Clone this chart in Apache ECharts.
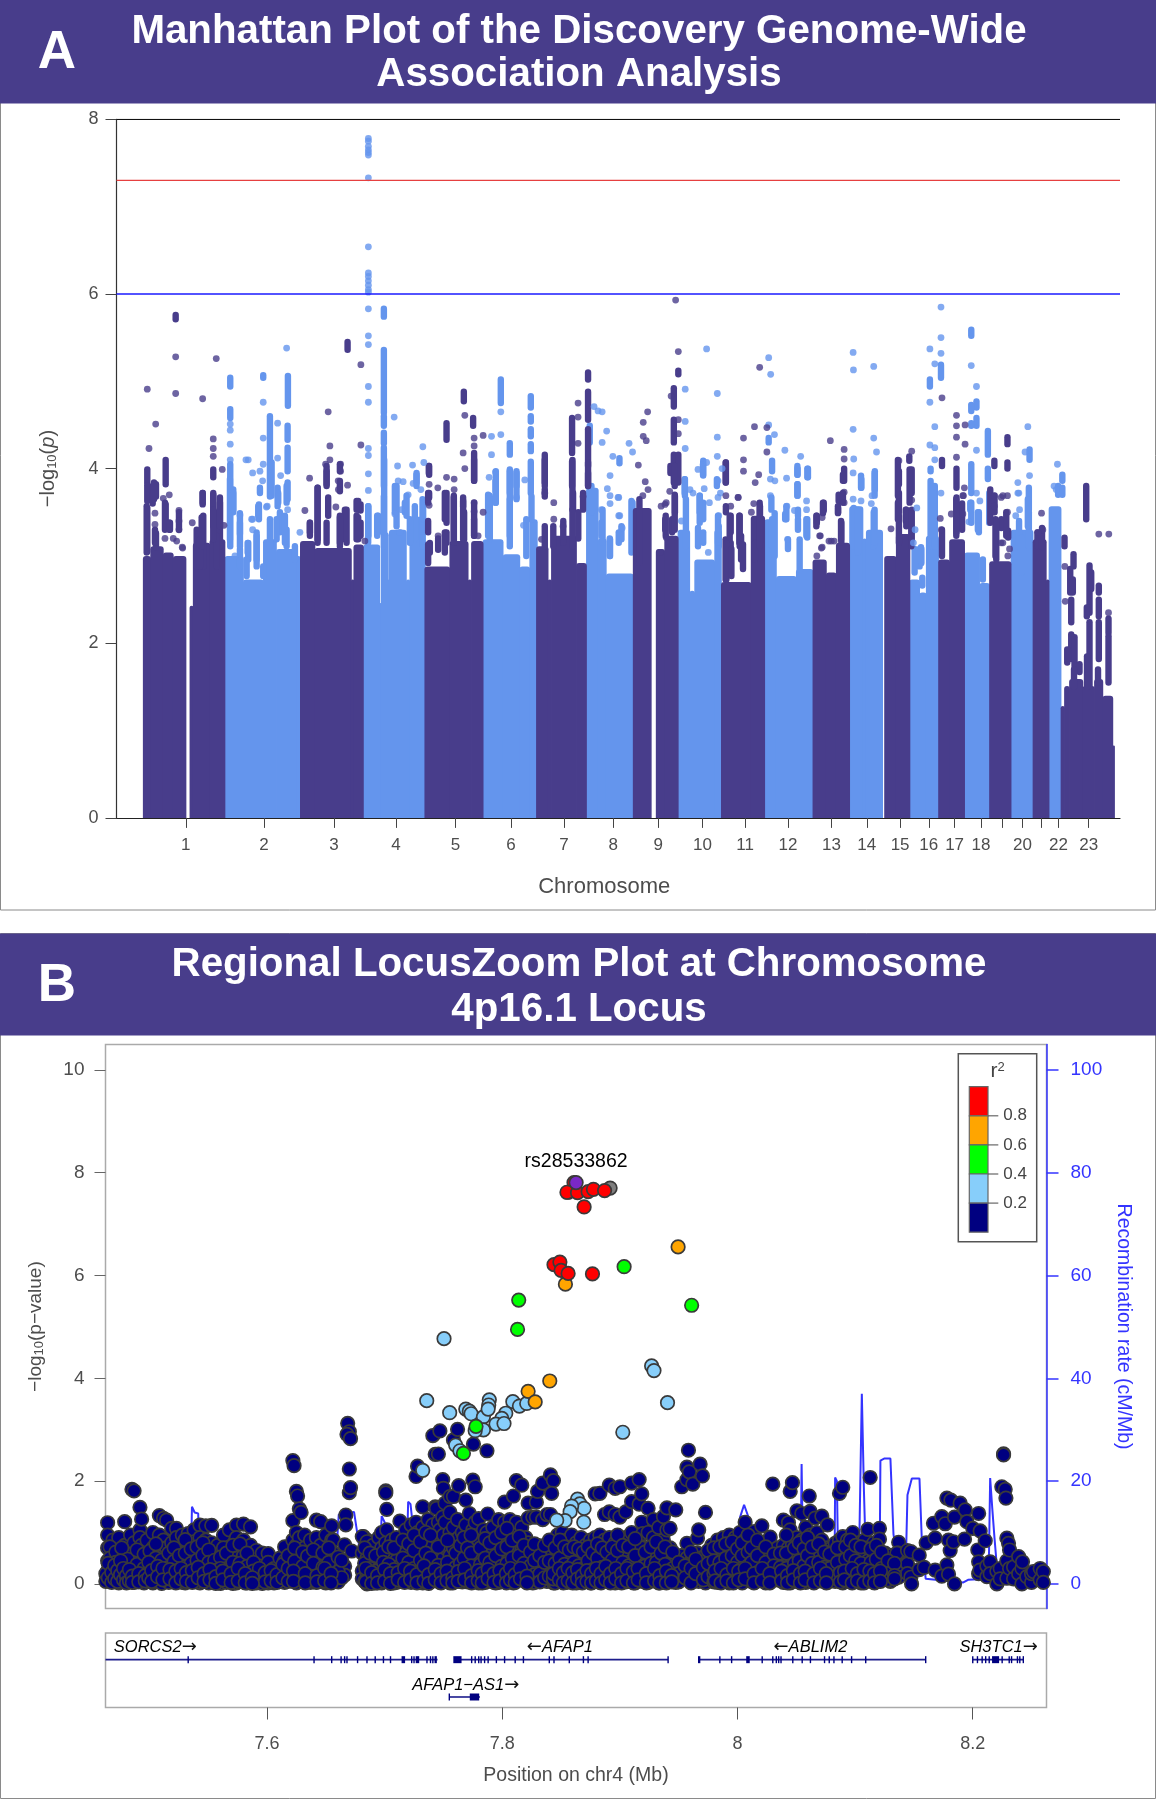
<!DOCTYPE html>
<html><head><meta charset="utf-8">
<style>html,body{margin:0;padding:0;background:#fff}#c{width:1156px;height:1800px}</style>
<script src="https://cdn.jsdelivr.net/npm/echarts@6/dist/echarts.min.js"></script>
</head><body><div id="c"></div>
<script>
// ---------- Panel A: positions are genome bins (about 3.16 Mb each) ----------
const chromTicks=[69.3,147.5,217.6,279.5,339.2,394.6,447.7,497,542,586.3,629,671.8,715.4,750.7,784,812.7,838.5,865,886,906.4,925.5,942.5,972.7];
const chromLabels=['1','2','3','4','5','6','7','8','9','10','11','12','13','14','15','16','17','18','','20','','22','23'];
const thresholds={top:8,genomeWide:7.3,suggestive:6};
// solid body of the plot: [binStart, binEnd, solid height]
const lightBody=[[108.5,127,3.0],[127,147,2.73],[147,160,3.19],[160,180,3.08],[180,184,3.0],[247,263.5,3.13],[263.5,265,2.46],[265,272,3.27],[272,273,2.73],[273,290,3.3],[290,293.5,2.73],[293.5,309,3.45],[366.8,386.8,3.19],[386.8,403.5,3.02],[403.5,413.5,2.88],[413.5,421,3.42],[470.2,482,3.78],[482,490,3.2],[490,517,2.8],[561.8,573.5,3.3],[573.5,578.5,2.6],[578.5,598.5,2.96],[598.5,605.2,3.3],[648.5,660.2,3.42],[660.2,680.2,2.77],[680.2,696.8,2.85],[733.5,746.8,3.57],[746.8,750.2,3.2],[750.2,766.5,3.3],[793.5,803.5,2.73],[803.5,810.2,2.58],[810.2,822.5,3.23],[848.5,863.5,3.04],[863.5,873.5,2.69],[895,917,3.3],[933,945,3.57]];
const darkBody=[[26.8,34.2,3.0],[34.2,46.8,3.11],[46.8,56.8,3.04],[56.8,69.5,3.0],[73.5,76.8,2.43],[76.8,93.5,3.15],[93.5,108.5,3.19],[184,198.5,3.17],[198.5,235,3.09],[235,237.5,2.73],[237.5,247,3.13],[308.5,333.5,2.88],[333.5,351.8,3.17],[351.8,355.2,2.73],[355.2,366.8,3.17],[420.2,431.8,3.11],[431.8,435.2,2.73],[435.2,460.2,3.23],[460.2,470.2,2.92],[517,535,3.55],[540,548.5,3.08],[548.5,562,3.23],[605.2,635,2.7],[635,648.5,3.46],[696.8,710.2,2.96],[710.2,720.2,2.81],[720.2,733.5,3.15],[768.5,780.2,3.0],[780.2,793.8,3.25],[822.5,833.5,2.96],[833.5,848.5,3.19],[873.5,895,2.94],[917,930.2,3.19],[930.2,933,2.73],[945,948.5,1.28],[948.5,953.5,1.51],[953.5,966.8,1.59],[966.8,978.5,1.51],[978.5,986.8,1.59],[986.8,996.8,1.4],[996.8,998.5,.83]];
// vertical runs of overlapping points: [bin, low, high]
const darkRuns=[[30.8,3.84,3.99],[30.8,3.63,3.81],[30.8,3.05,3.55],[36.2,3.6,3.8],[39.5,3.68,3.82],[49.2,3.82,4.1],[49.2,3.34,3.59],[53.5,3.3,3.38],[39.5,3.1,3.26],[59.2,5.71,5.76],
[80.2,2.88,3.3],[86.8,2.88,3.46],[86.2,3.59,3.72],[96.8,3.5,3.7],[98.5,3.27,3.5],[103.5,3.11,3.61],[96.8,3.9,3.99],[83.5,2.88,3.19],[100.2,2.88,3.23],
[231.2,5.36,5.45],[210.2,3.82,3.97],[201.2,3.15,3.78],[211.8,3.46,3.67],[193.5,3.27,3.38],[210.2,3.15,3.38],[228.5,3.19,3.53],[223.5,3.15,3.44],[240.2,3.53,3.63],[244.2,3.52,3.59],[244.2,3.23,3.38],[240.2,3.19,3.46],
[312.8,3.93,4.03],[312.8,3.67,3.72],[330.2,4.33,4.52],[347.5,4.77,4.88],[356.8,4.49,4.58],[357.8,3.86,4.18],[330.2,3.38,3.72],[337.5,3.15,3.67],[346.8,3.57,3.67],[357.8,3.23,3.42],[347.8,3.19,3.5],[311.8,3.27,3.4],[313.5,3.04,3.15],[330.2,3.15,3.27],
[428.5,3.84,4.16],[428.5,3.68,3.76],[455.8,4.18,4.58],[455.8,3.8,4.08],[456.8,3.53,3.72],[471.8,5.02,5.1],[471.8,4.56,4.88],[471.8,4.03,4.45],[471.8,3.8,3.95],[462,3.2,3.5],[447,3.15,3.4],
[523.2,2.92,3.65],[557.6,4.71,4.92],[557.6,4.3,4.56],[557.6,3.84,4.16],[562.1,3.84,4.16],[554.2,3.95,4.03],[558.7,3.5,3.69],[549,3.3,3.42],[555.9,3.27,3.42],[562.1,5.08,5.12],
[609.7,3.84,4.07],[609.7,3.5,3.57],[643.8,3.15,3.57],[614.5,3.27,3.46],[623.2,3.15,3.46],[609.4,2.73,3.19],[614.5,2.88,3.15],[624.9,2.96,3.23],[638.7,2.96,3.15],
[728,3.86,4.0],[722.5,3.63,3.7],[707.6,3.52,3.61],[722,3.5,3.55],[700.7,3.38,3.46],[724.9,3.19,3.4],
[793.2,4.09,4.14],[782.8,3.82,3.97],[795.6,3.72,3.99],[782.8,3.5,3.72],[789.7,3.4,3.53],[795.6,3.19,3.53],[782.8,3.15,3.46],
[825.9,4.03,4.1],[840.4,3.78,4.0],[840.4,3.27,3.67],[825.9,3.0,3.3],[846,3.3,3.6],
[891.4,4.28,4.36],[878.3,4.03,4.09],[891.4,4.0,4.07],[879.4,3.0,3.42],[885.2,3.32,3.42],[892.1,3.21,3.29],
[921.4,3.11,3.27],[926,3.1,3.32],[948.5,3.11,3.21],[957.5,2.88,3.02],[954.2,2.58,2.85],[956.8,2.58,2.73],[955.2,2.24,2.5],[955.2,1.82,2.1],[951.2,1.78,1.93],[958.5,1.74,2.07],[963.5,1.67,1.76],[958,1.5,1.7],
[970.2,3.42,3.8],[973.5,2.35,2.89],[975.2,2.62,2.81],[970.8,2.31,2.41],[973.5,1.51,2.24],[971,1.5,1.85],[982.8,2.58,2.66],[982.8,2.31,2.5],[982.8,1.82,2.24],[992.5,2.12,2.28],[992.5,1.55,2.08],[982,1.55,1.7]];
const darkMidRuns=[[30.2,3.04,3.57],[37.5,3.65,3.84],[38.5,3.15,3.3],[48.5,3.3,3.61],[52.8,3.3,3.38],[62.5,3.3,3.5],[86.2,3.61,3.72],[85.2,3.11,3.44],[96.8,3.34,3.72],[103.5,3.34,3.67],[96.8,3.19,3.53],
[201.2,3.19,3.78],[210.2,3.8,4.03],[223.5,3.97,4.05],[223.5,3.74,3.86],[223.5,3.11,3.46],[230.2,3.15,3.53],[241.8,3.53,3.63],[241.8,3.19,3.44],[193.5,3.23,3.38],
[312.5,3.95,4.03],[311.8,3.61,3.72],[311.8,2.92,3.13],[321.8,3.07,3.2],[328.5,3.42,3.72],[328.5,3.04,3.27],[337.5,3.15,3.69],[346.8,3.19,3.63],[357.8,3.86,4.1],[357.8,3.23,3.61],
[428.5,3.8,4.1],[428.5,3.11,3.34],[437,3.11,3.34],[456.2,3.53,4.1],[466.8,3.53,3.72],[471.8,3.8,4.07],[456.2,3.11,3.53],
[558.5,3.8,4.03],[558.5,3.3,3.7],[549.5,3.23,3.46],
[609.5,3.84,4.07],[643.5,3.11,3.61],[613.5,3.19,3.46],[623.5,3.11,3.46],[610.2,2.73,3.15],[615.2,2.77,3.08],[626.8,2.85,3.13],
[706.8,3.49,3.61],[700.2,3.34,3.46],[721.8,3.49,3.57],[726.8,3.61,3.72],[726.8,3.86,3.93],[725.2,3.15,3.38],
[781.8,3.69,4.1],[781.8,3.42,3.61],[793.5,3.61,3.99],[790.2,3.34,3.53],[795.2,3.11,3.49],
[840.2,3.23,3.65],[874.2,3.38,3.76],[878.5,3.5,3.69],[880.2,2.96,3.4],[890.2,3.23,3.5]];
const lightRuns=[[113.8,4.94,5.04],[113.8,4.58,4.68],[113.8,3.11,4.05],[116.8,3.5,3.76],[123.5,3.25,3.38],[143.5,3.72,3.78],[142.5,3.42,3.59],[146.8,5.04,5.07],[153.5,3.68,4.6],[171.5,4.72,5.06],[171.2,4.33,4.49],[171.2,3.97,4.24],[171.2,3.65,3.84],[161.2,3.57,3.78],[131.8,2.96,3.15],[140.2,2.88,3.23],[153.5,3.11,3.42],[163.5,3.27,3.5],[170.2,3.11,3.3],[123.5,2.88,3.08],[178.5,2.96,3.11],
[252,3.23,3.57],[267.5,5.74,5.83],[267.5,4.64,5.36],[267.5,4.49,4.6],[267.5,4.29,4.41],[267.5,3.8,4.24],[267.5,3.11,3.68],[261.8,3.27,3.46],[300.2,3.8,3.93],[278.5,3.5,3.8],[288.5,3.5,3.61],[298.5,3.19,3.57],[306.2,3.11,3.65],[293.5,3.15,3.42],
[384.5,4.75,5.02],[393.5,4.16,4.29],[393.5,3.72,3.97],[400.2,3.8,3.95],[414.5,4.7,4.83],[414.5,4.54,4.6],[414.5,4.37,4.45],[414.5,4.2,4.28],[414.5,3.72,4.08],[415.2,3.42,3.68],[371.8,3.23,3.7],[379.2,3.74,3.86],[393.5,3.11,3.65],[410,3.0,3.42],[473.5,4.3,4.49],[475.2,3.5,3.8],
[503.2,4.06,4.12],[486.3,3.15,3.53],[502.5,3.15,3.27],[493.8,3.0,3.19],[516.3,3.19,3.61],
[587,3.92,4.09],[568.7,3.69,3.88],[583.5,3.5,3.69],[600.7,3.8,3.88],[587,3.42,3.61],[569.7,3.11,3.65],[581.8,3.11,3.32],[602.5,3.11,3.34],[587,3.15,3.27],
[652.5,4.3,4.35],[655.9,3.97,4.09],[681.4,3.93,4.0],[691.8,3.9,4.0],[681.4,3.69,3.82],[669,3.42,3.48],[681.8,3.3,3.42],[691.1,3.21,3.42],[655.9,3.11,3.42],
[744.9,3.78,3.92],[758.7,3.76,3.97],[737.6,3.11,3.55],[757.6,3.11,3.5],
[813.8,4.94,5.02],[814.5,3.97,4.0],[814.5,3.11,3.86],[818.7,3.11,3.8],[804.9,2.92,3.1],[824.9,5.04,5.19],
[855.2,5.52,5.59],[860.4,4.7,4.77],[855.2,4.66,4.73],[860.4,4.49,4.58],[855.2,4.49,4.52],[871.8,4.16,4.43],[855.2,3.72,4.05],[871.8,3.88,4.0],[854.2,3.53,3.61],[862.8,3.27,3.5],[873.2,3.38,3.72],
[913.5,4.1,4.22],[912.8,3.53,3.78],[912.8,3.11,3.5],[903,3.1,3.4],[946.3,3.86,3.93],[942.1,3.7,3.8],[946.3,3.7,3.78]];
const lightMidRuns=[[113.5,3.19,3.88],[116.8,3.53,3.72],[123.5,3.11,3.49],[131.2,3.04,3.15],[141.8,3.46,3.57],[140.2,2.96,3.27],[155.2,3.69,4.07],[161.8,3.61,3.72],[170.2,3.61,3.8],[160.2,3.19,3.42],[168.5,3.15,3.46],[130.2,2.77,2.96],[146.8,2.77,2.88],
[251.8,3.15,3.57],[260.8,3.23,3.46],[267.8,3.27,4.1],[280.2,3.34,3.8],[300.2,3.84,3.95],[290.2,3.46,3.69],[306.8,3.42,3.61],
[379.5,3.61,3.97],[373.5,3.19,3.69],[393.5,3.23,3.99],[400.2,3.65,3.97],
[485.2,3.23,3.38],[505.2,3.19,3.34],[493.5,3,3.2],[515.2,3.04,3.63],[568.5,3.72,3.88],[583.5,3.38,3.69],[586.8,3.93,4.05],[601.8,3.15,3.46],
[681.2,3.69,3.82],[681.2,3.93,4.03],[691.2,3.9,4],[655.2,3.53,3.67],[670.2,3.42,3.57],[681.8,3.46,3.53],[690.2,3.23,3.42],[671.8,3.08,3.19],[658.5,3,3.49],[683.5,2.85,3.19],
[745.2,3.78,3.88],[758.5,3.69,3.95],[741.8,3.04,3.53],[758.5,3.15,3.53],
[803.5,2.88,3.08],[798.5,2.81,3.08],[805.2,2.92,3.08],[806.2,2.66,2.75],[816.8,3.23,3.8],[855.2,3.38,3.61],[861.8,3.3,3.5],[866.8,2.73,2.96],[911.8,3.34,3.65],[905.2,2.81,3.21]];
// individual points: [bin, -log10 p]
const darkDots=[[30.8,4.91],[39.2,4.51],[32.5,4.23],[59.2,5.28],[59.2,4.86],[99.8,5.26],[86.2,4.8],[96.8,4.34],[96.8,4.23],[96.8,4.14],[105.8,3.99],[46.8,3.66],[52.8,3.7],[38.5,3.49],[38.5,3.36],[62.5,3.52],[62.5,3.4],[62.5,3.3],[48.5,3.2],[66.2,3.09],[60.2,3.17],[107.5,3.35],[75.8,3.38],[56.8,3.2],[65.8,3.1],
[211.8,4.65],[193.2,3.89],[213.5,4.26],[213.5,4.1],[209.2,4.05],[224.2,4.05],[224.2,3.97],[221.8,3.86],[222,3.76],[231.2,3.81],[244.5,5.19],[244.5,4.27],[188.5,3.52],[219.5,3.56],[248.5,3.17],
[312.8,3.82],[321.5,3.78],[312.8,3.58],[330.2,3.9],[337.8,3.88],[337.8,3.76],[348.5,4.61],[357.8,4.35],[357.8,4.26],[346.8,4.18],[348.5,4.0],[366.8,4.38],[357.8,3.61],[357.8,3.51],[321.8,3.23],[366.8,3.5],[361.8,3.23],
[437.5,3.61],[437.5,3.42],[425.2,3.19],[446.8,3.34],[461.8,4.75],[461.8,4.59],[461.8,4.29],[466.8,3.68],[428.5,3.72],
[531.4,4.65],[527,4.53],[527,4.37],[530,4.32],[522.1,4.04],[529,3.85],[531.8,3.76],[526.6,3.69],[559.4,5.93],[562.1,5.34],[554.9,4.83],[562.1,4.56],[562.1,4.4],[544.9,3.57],[550,3.61],[550,3.21],[543.8,3.04],[548.8,3.59],[553.5,3.74],
[609.7,3.69],[614.5,3.57],[622.1,3.67],[627.3,4.35],[627.3,4.1],[627.3,3.97],[638.3,4.48],[642.5,3.93],[639,3.84],[650.7,4.47],[650.7,4.19],[637.6,3.6],[635.2,3.5],[643.5,5.16],[621.8,3.67],
[714.2,4.32],[728,4.22],[728,4.11],[728,3.73],[728,3.61],[706,3.44],[704.2,3.23],[712.8,3.17],[718,3.17],[706,3.1],[700.7,3],[703.5,3.23],[705.2,3.09],[715.2,3.17],
[782.8,4.09],[795.6,4.2],[795.6,3.64],[774.9,3.31],[825.9,4.81],[840.4,4.61],[840.4,4.49],[840.4,4.36],[849,4.5],[849,4.28],[840.4,4.13],[848.3,3.78],[847.3,3.69],[835.2,3.48],[824.2,3.43],[825.2,3.3],[846.8,3.69],[846.8,3.48],
[878.3,3.69],[885.2,3.67],[891.4,3.69],[878.3,3.57],[891.4,3.5],[885,3.15],[886.8,3.69],[886.8,3.15],[893.5,3.08],[891.8,3],[925.5,3.49],[926.8,3.3],[921.8,3.27],[948.8,2.88],[949.2,2.48],[982.8,3.25],[992.8,3.25],[992.5,2.35]];
const lightDots=[[123.5,3.47],[131.8,4.1],[129.5,4.1],[136.2,3.95],[143.5,3.97],[146.2,3.86],[136.2,3.42],[136.2,3.3],[146.8,4.76],[146.8,4.35],[146.8,4.05],[161.2,4.52],[161.2,4.12],[170.2,5.38],[164.2,3.92],[171.2,3.53],[150,3.56],[183.5,3.27],[113.8,4.51],[113.8,4.44],[113.8,4.28],[113.8,4.1],[150.8,3.57],[135.2,3.42],[118.5,3],
[252,7.78],[252,7.75],[252,7.69],[252,7.65],[252,7.62],[252,7.59],[252,7.33],[252,6.54],[252,6.24],[252,6.2],[252,6.15],[252,6.1],[252,6.05],[252,6.02],[252,5.83],[252,5.52],[252,5.42],[252,4.94],[252,4.76],[252,4.23],[252,4.15],[252,3.94],[252,3.75],[277.8,4.59],[306.5,4.25],[307.5,4.07],[296.2,4.04],[281.2,4.03],[281.8,3.86],[286.8,3.85],[296.8,3.83],[304.5,3.76],[291.8,3.7],[285.2,3.53],[278.5,3.48],[283.5,3.27],
[384.5,4.65],[384.5,4.39],[375.2,4.37],[375.2,4.16],[379.2,3.96],[372.8,3.9],[379.2,3.61],[408.5,3.87],[400.2,3.67],[407.2,3.35],[477.8,4.71],[481.8,4.66],
[485.9,4.65],[490.4,4.43],[485.9,4.3],[496.6,4.14],[512.8,4.29],[516.3,4.19],[493.8,3.92],[491.1,3.77],[493.8,3.69],[502.5,3.67],[493.8,3.6],[502.5,3.46],[505.9,3.32],[501.8,3.67],[503.5,3.46],[485.2,3.53],
[569,4.91],[569,4.54],[569,4.23],[590.4,5.37],[601.1,4.86],[601.1,4.36],[601.1,4.14],[581.8,3.99],[590.4,4.07],[573.8,3.76],[588,3.77],[605.9,4],[604.2,3.72],[602.5,3.46],[593.2,3.61],[592.1,3.04],[565.2,3.4],[576.8,3.72],[601.8,3.86],[601.8,3.67],
[652.5,5.27],[654.5,5.08],[652.5,4.5],[658.3,4.39],[668.7,4.21],[684.5,4.14],[670.4,3.89],[654.2,3.88],[658.7,3.86],[690.4,3.63],[654.2,3.69],[670.7,3.57],[678.3,3.52],[690.4,3.53],[671.4,3.19],
[737,5.33],[737.3,5.13],[757.6,5.17],[737,4.45],[757.6,4.35],[760.4,4.19],[737.6,4.11],[737,3.95],[755.9,3.69],[737,3.65],[744.9,3.63],[755.2,3.6],
[813.8,5.37],[818.7,5.2],[813.8,4.76],[818.7,4.48],[813.8,4.27],[818.7,4.24],[818.7,4.1],[824.9,3.72],[800.7,3.55],[799,3.3],[797.3,3.15],[824.9,5.85],[824.9,5.5],[824.9,5.32],
[855.2,5.18],[860.4,4.94],[860.4,4.21],[863.8,3.63],[860.4,3.72],[852.8,3.39],[911.8,4.48],[909,4.19],[913.5,3.92],[901.8,3.84],[901.8,3.72],[903.5,3.53],[899.7,3.46],[941.4,4.05],[938,3.8],[902.8,3.72],[940.2,3.76]];

// ---------- Panel B ----------
const xTicksB=[7.6,7.8,8,8.2];
const pTicks=[0,2,4,6,8,10];
const recTicks=[0,20,40,60,80,100];
const recomb=[[7.4627,.5],[7.535,.5],[7.5362,15],[7.5385,13.9],[7.5415,13.7],[7.5425,5],[7.545,1],[7.584,1],[7.586,8],[7.589,8],[7.59,1],[7.655,.5],[7.6595,8],[7.661,13.5],[7.674,14],[7.678,8],[7.681,1],[7.695,1],[7.6975,13.2],[7.7,12],[7.7055,8],[7.71,2],[7.7185,2],[7.72,16],[7.722,15.5],[7.7265,6],[7.7295,2],[7.735,1],[7.8,.8],[7.9,.5],[8.0,.8],[8.0022,13],[8.0056,15.4],[8.0093,13],[8.012,1],[8.0535,1],[8.0545,23.3],[8.0555,8],[8.0575,1],[8.0825,1],[8.083,20.7],[8.0845,20],[8.0855,5],[8.103,1],[8.1043,18.3],[8.1052,18.3],[8.1057,37],[8.1068,37],[8.1075,18],[8.1085,10],[8.121,8],[8.1215,24],[8.125,24.4],[8.13,24.4],[8.1326,9.7],[8.135,6],[8.1432,5],[8.1445,17.3],[8.1482,20.5],[8.1547,20.5],[8.1567,8.6],[8.16,1],[8.185,.4],[8.192,.3],[8.196,.8],[8.2135,1],[8.2148,20.6],[8.2165,15],[8.2185,8.9],[8.22,8.9],[8.221,2],[8.25,.3],[8.2627,.3]];
// each row: position (Mb), then the -log10 p values read at that position
const navyColumns=[
[7.4645,1.19,.95,.7,.45,.25,.08],[7.469,.85,.55,.3,.1],[7.474,.9,.6,.4,.15,.02],[7.479,1.21,.75,.5,.2,.05],[7.484,.95,.65,.35,.12],[7.4852,1.84],[7.487,1.81,.8,.45,.2,.03],[7.492,1.49,1.05,.9,.6,.3,.1],[7.4934,1.26,.75,.4,.15],[7.498,.85,.55,.28,.06],[7.503,1.0,.7,.42,.18,.02],[7.5085,1.33,.95,.6,.35,.1],[7.512,1.275,.85,.55,.25,.04],[7.5147,1.24,.7,.45,.15],[7.519,1.08,.8,.5,.22,.06],[7.523,1.08,.9,.62,.38,.12],[7.528,.95,.7,.4,.18,.03],[7.533,.98,.75,.48,.28,.05],[7.538,1.05,.82,.55,.3,.1],[7.543,1.145,.9,.65,.35,.02],[7.548,1.13,.85,.52,.25,.08],[7.553,1.14,.8,.6,.3,.04],[7.558,.75,.5,.2,.03],[7.563,.95,.7,.45,.12],[7.568,1.05,.6,.35,.06],[7.574,1.145,.9,.5,.18,.02],[7.58,1.165,.85,.55,.25,.05],[7.586,1.11,.75,.45,.2,.03],[7.591,.65,.4,.15,.02],[7.596,.6,.3,.1,.01],[7.601,.59,.42,.15,.02],[7.606,.3,.12,.02],[7.611,.5,.25,.05],[7.615,.72,.45,.2,.03],
[7.622,2.4,1.23,.85,.6,.3,.08],[7.623,2.3],[7.625,1.8,1.0,.75,.5,.22,.02],[7.626,1.71],[7.6275,1.46,.9,.6,.3,.1],[7.629,1.39],[7.632,.95,.7,.4,.05],[7.637,.85,.5,.2,.03],[7.642,1.24,.9,.55,.25,.03],[7.6456,1.21,.75,.4,.1],[7.65,.95,.5,.25,.02],[7.655,1.13,.85,.35,.05],[7.6564,.85,.6,.3],[7.666,.76,.34,.17],[7.667,1.34,1.15],[7.6686,3.124],[7.67,2.96,2.235,1.775],[7.668,2.91],[7.671,2.825,1.872],[7.672,.64],
[7.681,.92,.6,.25,.1],[7.685,.82,.5,.2,0],[7.69,.75,.4,.15,.03],[7.695,.9,.55,.3,.06],[7.6975,1.0,.7,.35,.02],[7.701,1.81,1.77,.8,.5,.2],[7.7018,1.45,1.05],[7.706,.85,.6,.3,.08],[7.71,.9,.45,.15,.03],[7.713,1.22,.7,.35,.05],[7.718,1.05,.6,.25,.1],[7.7225,1.15,.8,.45,.03],[7.7267,2.09,1.2,.9,.55,.2],[7.728,2.29,1.0,.7,.3,.05],[7.7324,1.5,1.1,.6,.25,.02],[7.737,1.25,.85,.42,.12],[7.741,2.884,1.15,.75,.3,.06],[7.743,2.52,1.5],[7.744,1.47,.9,.5,.2],[7.7457,2.527,1.2],[7.747,2.975,1.05,.65,.35,.03],[7.7494,2.03,1.3],[7.75,1.86,.95,.5,.25],[7.7514,1.57,1.2,.7,.1],[7.7556,1.7,1.39,1.0,.55,.3,.02],[7.7585,2.8,1.7,1.1,.7,.2],[7.762,3.007,1.25,.85,.45,.1],[7.763,1.91,.9],[7.766,1.0,.6,.3,.04],[7.769,1.63,1.15,.75,.4,.15],[7.772,1.37,.9,.5,.22],[7.775,2.02,1.05,.65,.3,.05],[7.7755,2.72],[7.777,1.89,1.2,.4],[7.78,1.27,.85,.5,.2,.02],[7.784,1.05,.7,.35,.1],[7.787,2.59,1.0,.6,.25],[7.7876,1.36,.8,.4,.05],[7.792,1.1,.7,.3,.12],[7.797,1.25,.85,.45,.2,.03],[7.802,1.59,1.2,.9,.55,.25],[7.8065,1.25,.95,.5,.08],[7.8095,1.71,1.05,.7,.3,.02],[7.812,2.01,1.2,.85,.45],[7.8166,1.92,1.1,.65,.15],[7.82,.9,.55,.25,.05],[7.822,1.57,1.28,.8],[7.826,1.3,.65,.3,.02],[7.829,1.59,1.3],[7.83,1.8,.75,.4,.12],[7.8344,1.96,1.25,.55,.2],[7.838,1.35,.7,.35,.05],[7.841,2.12,1.35,.55,.25],[7.8435,2.01,.8,.3,.02],[7.842,1.76],[7.847,.95,.6,.3,.1],[7.851,1.0,.7,.45,.15],[7.855,.85,.6,.2,.03],[7.859,.95,.45,.25],[7.863,.8,.6,.1,.02],[7.867,.9,.5,.2],[7.871,.75,.4,.08],[7.875,.85,.6,.3,.02],[7.879,1.75,.9,.45,.15],[7.883,1.76,.95,.6,.25,.03],[7.887,1.35,.85,.4,.1],[7.891,1.92,1.4,.9,.55,.2],[7.896,1.86,1.35,.8,.35,.02],[7.9,1.89,1.3,.85,.5,.15],[7.905,1.4,.9,.6,.25,.04],[7.91,1.96,1.6,1.0,.45,.1],[7.9164,2.03,1.55,.8,.4,.2],[7.9186,1.75,1.2,.7,.3],[7.9195,.98,.55,.05],[7.924,1.47,1.0,.65,.25,.03],[7.9285,1.25,.9,.5,.15],[7.933,1.1,.7,.35,.02],[7.937,1.31,.85,.5,.2],[7.94,1.48,1.05,.6,.3,.06],[7.9427,1.08,.7,.38,.12],[7.9475,1.44,.55,.25,.03],[7.952,.55,.3,.1],
[7.9526,1.89],[7.957,2.27,2.03,.79,.5,.25],[7.9583,2.6],[7.959,2.18,.4,.08],[7.962,1.94,.45,.15],[7.966,.89,.6,.25],[7.967,1.05,.35,.05],[7.9682,2.33,.5],[7.9702,2.1,.4,.15],[7.9728,1.39,.55,.25,.02],[7.978,.75,.55,.3,.08],[7.983,.85,.6,.2,.03],[7.988,.9,.65,.4,.12],[7.993,.95,.7,.35,.02],[7.998,.9,.6,.3,.1],[8.002,1.0,.7,.45,.05],[8.0065,1.2,.85,.5,.2],[8.0144,1.02,.7,.4,.03],[8.0207,1.13,.8,.5,.15],[8.0278,.91,.6,.35,.05],[8.03,1.94],[8.034,.7,.45,.2,.08],[8.039,1.24,.75,.5,.25,.03],[8.0433,1.19,.7,.4,.1],[8.0448,1.8,1.05,.55,.02],[8.0467,1.97,.76,.35],[8.0505,1.42,.9,.6,.2,.05],[8.0547,1.37,.85,.5,.3],[8.058,1.1,.7,.4,.03],[8.061,1.71,.8,.45,.15],[8.0618,1.41,.95],[8.066,1.28,.8,.5,.08],[8.0674,1.0,.6,.3],[8.0717,1.32,.85,.45,.2],[8.0765,1.15,.7,.35,.03],[8.08,.7,.4,.15],[8.083,.79,.5,.25,.05],[8.0867,1.76,.85,.6,.3,.1],[8.0895,1.88,.92,.45,.02],[8.0935,.85,.6,.25],[8.098,1.0,.7,.4,.12],[8.103,.8,.55,.3,.04],[8.108,.85,.6,.2],[8.1108,1.06,.7,.45,.1],[8.1128,2.07],[8.116,.8,.5,.3,.03],[8.1207,1.08,.87,.55,.2],[8.1255,.6,.35,.13],[8.13,.55,.3,.05],[8.137,.81,.6,.3,.13],[8.1355,.6],[8.1445,.65,.39,.2],[8.1474,.63,.13],[8.148,0],[8.1545,.56,.28],[8.1587,.32],[8.1604,.8],[8.168,.89,.27],[8.1666,1.18],[8.1737,1.31,.15],[8.1766,1.17],[8.178,1.67,.37],[8.1794,.85,.19],[8.1808,.65],[8.1814,1.63],[8.1836,.82],[8.1845,1.3,0],[8.1893,1.57],[8.193,.87],[8.1936,1.44],[8.195,1.21],[8.2,1.08],[8.2043,.66],[8.205,1.37,.43,.2],[8.2063,1.03],[8.206,.27],[8.2106,.84],[8.212,.14,.35],[8.2148,.43,.2],[8.2205,0,.25],[8.2233,.3,.1],[8.2262,2.53,2.51],[8.2247,1.89],[8.2276,1.84],[8.2282,1.67],[8.229,.89,.11,.45],[8.2304,.79],[8.2313,.66,.3],[8.2347,.33,.1],[8.239,.53,.2],[8.2418,0,.3],[8.2423,.43],[8.246,.14],[8.25,.03,.2],[8.2516,.24],[8.2573,.3,.08],[8.26,.24,.03]];
const navyColumnsLow=[[7.462,.6,.35,.15,.02],[7.4665,.72,.5,.28,.05],[7.4715,.62,.42,.2,.07],[7.4765,.7,.33,.12],[7.4815,.48,.25,.04],[7.4895,.66,.38,.14],[7.4955,.58,.3,.02],[7.5005,.64,.37,.1],[7.5055,.78,.5,.26,.05],[7.5105,.46,.2,.01],[7.5165,.6,.32,.03],[7.521,.7,.44,.16],[7.5255,.55,.28,.07],[7.5305,.86,.6,.33,.02],[7.5355,.68,.4,.16],[7.5405,.72,.46,.2,.04],[7.5455,.8,.56,.3,.1],[7.5505,.66,.42,.17,.02],[7.5555,.46,.26,.05],[7.5605,.52,.3,.1,.01],[7.5655,.6,.24,.03],[7.571,.75,.42,.12,.01],[7.577,.78,.4,.15],[7.583,.6,.34,.1,.02],[7.5885,.42,.25,.06],[7.5935,.3,.08],[7.5985,.22,.04],[7.6035,.26,.06],[7.6085,.18,.03],[7.6135,.38,.12],[7.618,.55,.3,.05],[7.6235,.7,.44,.16],[7.6305,.62,.34,.06],[7.6345,.54,.2],[7.6395,.66,.4,.1],[7.6475,.6,.32,.04],[7.6525,.7,.42,.16],[7.6605,.52,.24,.04],[7.6635,.46,.12],
[7.683,.7,.4,.05],[7.6875,.6,.3,.08],[7.6925,.55,.25,.02],[7.699,.62,.42,.12],[7.7035,.72,.38,.06],[7.708,.7,.28,.02],[7.7155,.85,.5,.2],[7.7205,.78,.42,.14],[7.725,.95,.65,.3],[7.7305,.82,.46,.1],[7.735,1.0,.6,.3,.04],[7.739,.95,.5,.18],[7.7455,.72,.36,.08],[7.7535,.85,.42,.18],[7.7605,.6,.32,.06],[7.7645,.75,.4,.14],[7.7675,.9,.5,.22],[7.7705,.7,.3,.04],[7.7735,.95,.6,.35,.1],[7.7815,.7,.38,.12],[7.7855,.88,.5,.22,.03],[7.7895,.8,.42,.1],[7.7945,.9,.55,.2,.02],[7.7995,1.0,.68,.34,.1],[7.804,1.08,.72,.4,.14],[7.8085,.85,.5,.18],[7.8145,.92,.55,.24],[7.8185,.75,.4,.1],[7.824,.62,.35,.12],[7.8275,.78,.46,.18,.03],[7.832,.55,.2,.04],[7.836,.75,.42,.12],[7.84,.85,.45,.15],[7.845,.7,.4,.18,.02],[7.849,.85,.5,.22],[7.853,.72,.38,.1],[7.857,.66,.32,.06],[7.861,.72,.42,.15],[7.865,.68,.35,.05],[7.869,.62,.3,.12],[7.873,.72,.45,.18],[7.877,.6,.28,.06],[7.881,.78,.5,.3,.1],[7.885,.7,.32,.06],[7.889,.62,.28,.12],[7.8935,.72,.46,.14],[7.898,.95,.65,.28,.06],[7.9025,.75,.42,.1],[7.9075,.72,.35,.12],[7.913,.88,.55,.25,.02],[7.9215,.62,.35,.12],[7.9265,.72,.4,.06],[7.931,.82,.42,.2],[7.935,.6,.28,.04],[7.9385,.72,.38,.1],[7.945,.62,.3,.08],[7.95,.42,.2,.04],[7.9555,.35,.12],[7.9605,.62,.3,.02],[7.9645,.48,.2],[7.971,.32,.08],[7.975,.65,.4,.14],[7.98,.7,.45,.2,.04],[7.985,.72,.42,.12],[7.99,.78,.5,.22],[7.9955,.82,.55,.25,.08],[8.0,.68,.42,.18],[8.004,.8,.55,.3,.02],[8.009,.95,.62,.35,.14],[8.012,.7,.42,.05],[8.017,.85,.55,.22,.06],[8.024,.72,.42,.2,.02],[8.031,.58,.35,.1],[8.0365,.6,.32,.14],[8.0415,.95,.6,.3,.05],[8.0485,.7,.4,.18],[8.0525,.8,.45,.12],[8.0565,.68,.35,.06],[8.0595,.9,.55,.25],[8.0635,.72,.4,.1],[8.069,.78,.42,.18],[8.074,.62,.32,.05],[8.0785,.58,.3,.1],[8.085,.7,.42,.16],[8.092,.72,.48,.14],[8.096,.85,.55,.22,.04],[8.1005,.75,.45,.1],[8.105,.72,.4,.16,.02],[8.1135,.68,.42,.12],[8.118,.75,.48,.2,.06],[8.1225,.62,.3,.12],[8.128,.45,.2,.08],[8.1335,.4,.16,.1]];
const navyColumnsBase=[[7.463,.2,.05],[7.465,.4,.12],[7.468,.22,.03],[7.4705,.36,.1],[7.473,.26,.05],[7.4755,.45,.18],[7.478,.3,.08],[7.4805,.16,.02],[7.483,.28,.06],[7.4855,.15,.03],[7.491,.2,.04],[7.4965,.16,.06],[7.4995,.42,.12],[7.502,.26,.05],[7.507,.34,.14],[7.5115,.3,.08],[7.5175,.28,.1],[7.5225,.25,.02],[7.527,.3,.1],[7.5315,.22,.05],[7.5365,.26,.03],[7.5415,.32,.12],[7.5465,.2,.05],[7.5515,.28,.08],[7.5565,.14,.01],[7.5625,.25,.08],[7.5695,.2,.03],[7.5755,.3,.06],[7.5815,.2,.02],[7.5875,.12,.01],[7.6225,.25,.05],[7.6325,.2,.02],[7.6425,.16,.04],[7.649,.3,.06],[7.6545,.2,.02],
[7.684,.3,.04],[7.689,.22,.01],[7.694,.16,.02],[7.7,.28,.05],[7.705,.2,.01],[7.7115,.22,.08],[7.717,.3,.03],[7.722,.25,.08],[7.7275,.18,.02],[7.7335,.35,.06],[7.7375,.18,.01],[7.743,.28,.08],[7.748,.2,.02],[7.753,.25,.06],[7.758,.12,.02],[7.7625,.24,.05],[7.768,.3,.08],[7.774,.16,.02],[7.7795,.26,.06],[7.783,.2,.02],[7.788,.28,.1],[7.793,.2,.03],[7.798,.26,.06],[7.8035,.2,.02],[7.807,.3,.08],[7.811,.18,.03],[7.8155,.3,.1],[7.821,.15,.02],[7.8435,.1,.2],[7.8485,.3,.08],[7.852,.22,.02],[7.856,.3,.06],[7.86,.22,.02],[7.864,.28,.1],[7.868,.16,.02],[7.872,.26,.05],[7.876,.2,.02],[7.88,.3,.06],[7.884,.2,.02],[7.888,.34,.08],[7.892,.2,.02],[7.8965,.3,.1],[7.9015,.2,.02],[7.906,.3,.06],[7.9115,.24,.02],[7.9155,.3,.08],[7.9225,.2,.02],[7.9295,.3,.06],[7.934,.16,.02],[7.9395,.25,.02],[7.944,.16,.04],[7.981,.26,.06],[7.986,.3,.02],[7.991,.18,.06],[7.9965,.3,.02],[8.001,.25,.08],[8.0065,.3,.1],[8.014,.2,.02],[8.021,.3,.06],[8.0275,.2,.02],[8.0375,.25,.06],[8.0425,.16,.02],[8.0475,.26,.08],[8.0535,.2,.02],[8.0575,.25,.08],[8.065,.2,.02],[8.0705,.3,.06],[8.0755,.2,.02],[8.0875,.22,.04],[8.091,.25,.08],[8.0975,.3,.02],[8.102,.2,.06],[8.1075,.28,.02],[8.1125,.25,.06],[8.1165,.2,.02],[8.1215,.25,.05]];
const grayColumns=[[7.47,.3,.15],[7.49,.4,.2],[7.52,.35],[7.56,.2],[7.682,.92,.1],[7.685,.85],[7.75,.4],[7.86,.75,.5],[7.8917,7.7],[7.94,.6],[8.02,.5],[8.1,.4]];
const lightbluePts=[[7.7505,4.77],[7.927,4.24],[7.929,4.15],[7.9405,3.526],[7.9025,2.95],[7.7358,3.565],[7.7553,3.33],[7.769,3.40],[7.772,3.36],[7.7735,3.31],[7.784,3.25],[7.789,3.58],[7.7885,3.48],[7.788,3.40],[7.809,3.545],[7.8146,3.46],[7.8208,3.51],[7.803,3.32],[7.7996,3.22],[7.7947,3.11],[7.8015,3.12],[7.784,2.995],[7.777,2.98],[7.7604,2.70],[7.764,2.59],[7.7324,2.21],[7.864,1.65],[7.866,1.555],[7.8696,1.47],[7.859,1.515],[7.8577,1.405],[7.8534,1.23],[7.8463,1.24],[7.8693,1.2]];
const greenPts=[[7.9036,6.17],[7.814,5.52],[7.813,4.95],[7.961,5.42],[7.7777,3.065],[7.767,2.54]];
const orangePts=[[7.8537,5.83],[7.9495,6.555],[7.8404,3.947],[7.822,3.746],[7.828,3.54]];
const redPts=[[7.861,7.806],[7.856,7.618],[7.855,7.618],[7.864,7.61],[7.873,7.63],[7.8775,7.676],[7.887,7.65],[7.8696,7.332],[7.844,6.21],[7.849,6.26],[7.850,6.10],[7.856,6.04],[7.8767,6.03]];
const leadSnp=[7.8628,7.806];
const leadName='rs28533862';
const legendColors=['#ff0000','#ffa500','#00ff00','#87cefa','#000080'];
const legendLabels=['0.8','0.6','0.4','0.2'];
// genes: [start Mb, end Mb, row]
const geneSpans=[[7.4627,7.745,.642],[7.759,7.941,.642],[7.967,8.160,.642],[8.200,8.243,.642],[7.755,7.781,.141]];
const exons=[[7.533,7.533],[7.640,7.640],[7.655,7.655],[7.663,7.663],[7.666,7.666],[7.668,7.668],[7.677,7.677],[7.685,7.685],[7.692,7.692],[7.699,7.699],[7.705,7.705],[7.715,7.718],[7.723,7.723],[7.725,7.725],[7.727,7.730],[7.736,7.736],[7.739,7.739],[7.741,7.741],[7.743,7.745],
[7.759,7.766],[7.774,7.774],[7.777,7.777],[7.780,7.780],[7.782,7.782],[7.785,7.785],[7.788,7.788],[7.795,7.795],[7.802,7.802],[7.811,7.811],[7.818,7.818],[7.840,7.840],[7.844,7.844],[7.857,7.857],[7.869,7.869],[7.873,7.873],[7.941,7.941],
[7.967,7.969],[7.985,7.986],[7.995,7.995],[8.008,8.011],[8.021,8.021],[8.030,8.030],[8.033,8.033],[8.035,8.035],[8.037,8.037],[8.047,8.047],[8.055,8.055],[8.062,8.062],[8.074,8.074],[8.078,8.078],[8.082,8.082],[8.089,8.089],[8.097,8.097],[8.109,8.109],[8.160,8.160],
[8.200,8.200],[8.204,8.204],[8.208,8.208],[8.211,8.211],[8.214,8.214],[8.217,8.223],[8.225,8.225],[8.231,8.231],[8.233,8.233],[8.238,8.238],[8.240,8.240],[8.243,8.243]];
const asExons=[[7.755,7.755],[7.773,7.781]];
const geneLabels=[[7.505,.812,'{t|SORCS2}{a|→}'],[7.849,.812,'{a|←}{t|AFAP1}'],[8.062,.812,'{a|←}{t|ABLIM2}'],[8.222,.812,'{t|SH3TC1}{a|→}'],[7.769,.302,'{t|AFAP1−AS1}{a|→}']];

// ---------- build ----------
const DARK='#483d8b',LIGHT='#6495ed',FONT='"Liberation Sans",Arial,sans-serif',TXT='#4d4d4d',BLUE='#3434ff';
const expand=cols=>cols.flatMap(r=>r.slice(1).map(v=>[r[0],v]));
const bodySeries=(data,color,z)=>({type:'custom',xAxisIndex:0,yAxisIndex:0,z,silent:true,data,
  renderItem:(p,api)=>{const a=api.coord([api.value(0),api.value(2)]),b=api.coord([api.value(1),0]);
    return {type:'rect',shape:{x:a[0]-.4,y:a[1],width:b[0]-a[0]+.8,height:b[1]-a[1],r:[3,3,0,0]},style:{fill:color}};}});
const runSeries=(data,color,z)=>({type:'custom',xAxisIndex:0,yAxisIndex:0,z,silent:true,data,
  renderItem:(p,api)=>{const a=api.coord([api.value(0),api.value(1)]),b=api.coord([api.value(0),api.value(2)]);
    return {type:'line',shape:{x1:a[0],y1:a[1],x2:b[0],y2:b[1]},style:{stroke:color,lineWidth:6.4,lineCap:'round'}};}});
const hline=(v,color,w)=>({type:'line',xAxisIndex:0,yAxisIndex:0,data:[[0,v],[1004,v]],symbol:'none',z:6,silent:true,lineStyle:{color,width:w}});
const dots=(data,color,z)=>({type:'scatter',xAxisIndex:0,yAxisIndex:0,data,symbolSize:6.8,z,silent:true,itemStyle:{color}});
const pts=(data,color,z,extra)=>Object.assign({type:'scatter',xAxisIndex:1,yAxisIndex:1,data,symbolSize:13.5,z,silent:true,clip:true,itemStyle:{color,borderColor:'#3a3a3a',borderWidth:1.7,opacity:1}},extra||{});
const geneText=(params,api)=>({type:'text',x:api.coord([api.value(0),api.value(1)])[0],y:api.coord([api.value(0),api.value(1)])[1],
  style:{text:geneLabels[params.dataIndex][2],align:'center',verticalAlign:'middle',
   rich:{t:{font:'italic 16.5px '+FONT,fill:'#000'},a:{font:'18px "DejaVu Sans"',fill:'#111'}}}});

const headers=[[0,0,103.5,'A',[['Manhattan Plot of the Discovery Genome-Wide',32],['Association Analysis',75]],53],
               [0,933.5,1035.6-933.5,'B',[['Regional LocusZoom Plot at Chromosome',965],['4p16.1 Locus',1010]],986]];
const graphic=[
 {type:'rect',shape:{x:.5,y:.5,width:1155,height:909.5},style:{fill:'none',stroke:'#8a8a8a',lineWidth:1},z:0},
 {type:'rect',shape:{x:.5,y:933.5,width:1155,height:865},style:{fill:'none',stroke:'#8a8a8a',lineWidth:1},z:0}];
headers.forEach(h=>{
 graphic.push({type:'rect',shape:{x:h[0],y:h[1],width:1156,height:h[2]},style:{fill:'#483d8b'},z:1});
 graphic.push({type:'text',style:{x:57,y:h[5],text:h[3],font:'bold 53px '+FONT,fill:'#fff',align:'center',verticalAlign:'middle'},z:2});
 h[4].forEach(t=>graphic.push({type:'text',style:{x:579,y:t[1],text:t[0],font:'bold 40.3px '+FONT,fill:'#fff',align:'center',verticalAlign:'middle'},z:2}));
});
// r2 key
graphic.push({type:'rect',shape:{x:958.3,y:1053.7,width:78.4,height:188},style:{fill:'#fff',stroke:'#555',lineWidth:1.5},z:20});
legendColors.forEach((c,i)=>graphic.push({type:'rect',shape:{x:969.3,y:1086.7+i*29.1,width:18.7,height:29.1},style:{fill:c,stroke:'#666',lineWidth:1.2},z:21}));
legendLabels.forEach((l,i)=>{const y=1115.8+i*29.1;
 graphic.push({type:'line',shape:{x1:988,y1:y,x2:998.3,y2:y},style:{stroke:'#666',lineWidth:1.2},z:21});
 graphic.push({type:'text',style:{x:1003.3,y,text:l,font:'17px '+FONT,fill:'#444',align:'left',verticalAlign:'middle'},z:21});});
graphic.push({type:'text',style:{x:997.7,y:1071.5,rich:{r:{font:'21px '+FONT,fill:'#444'},s:{font:'13px '+FONT,fill:'#444',verticalAlign:'top',padding:[0,0,8,0]}},text:'{r|r}{s|2}',align:'center',verticalAlign:'middle'},z:21});

const option={animation:false,backgroundColor:'#fff',textStyle:{fontFamily:FONT},graphic,
 grid:[{left:116.5,top:119.3,width:1003.5,height:698.6,containLabel:false},
       {left:105.5,top:1044.6,width:941,height:564,show:true,borderColor:'#aaa',borderWidth:1.5,backgroundColor:'transparent'},
       {left:105.5,top:1633,width:941,height:74.5,show:true,borderColor:'#aaa',borderWidth:1.5,backgroundColor:'transparent'}],
 xAxis:[
  {type:'value',gridIndex:0,min:0,max:1004,splitLine:{show:false},
   axisLine:{lineStyle:{color:'#222',width:1.2}},
   axisTick:{customValues:chromTicks,length:10,lineStyle:{color:'#444',width:1}},
   axisLabel:{customValues:chromTicks.filter((t,i)=>chromLabels[i]),formatter:v=>chromLabels[chromTicks.indexOf(v)],fontSize:17,color:TXT,margin:19,hideOverlap:false,showMinLabel:true,showMaxLabel:true},
   name:'Chromosome',nameLocation:'middle',nameGap:58,nameTextStyle:{fontSize:22,color:TXT,padding:[0,28,0,0]}},
  {type:'value',gridIndex:1,min:7.4627,max:8.2627,show:false},
  {type:'value',gridIndex:2,min:7.4627,max:8.2627,splitLine:{show:false},
   axisLine:{show:false},
   axisTick:{customValues:xTicksB,length:12,lineStyle:{color:'#555',width:1}},
   axisLabel:{customValues:xTicksB,formatter:v=>String(v),fontSize:18,color:TXT,margin:28},
   name:'Position on chr4 (Mb)',nameLocation:'middle',nameGap:58,nameTextStyle:{fontSize:19.5,color:TXT}}],
 yAxis:[
  {type:'value',gridIndex:0,min:0,max:8,interval:2,splitLine:{show:false},
   axisLine:{show:true,lineStyle:{color:'#333',width:1.2}},axisTick:{show:true,length:11,lineStyle:{color:'#444'}},
   axisLabel:{fontSize:18,color:TXT,margin:18},
   name:'{a|−log}{s|10}{a|(}{i|p}{a|)}',nameLocation:'middle',nameRotate:90,nameGap:58,
   nameTextStyle:{rich:{a:{fontSize:20,color:TXT},i:{fontSize:20,color:TXT,fontStyle:'italic'},s:{fontSize:13,color:TXT,verticalAlign:'bottom'}}}},
  {type:'value',gridIndex:1,min:-0.48,max:10.49,splitLine:{show:false},
   axisLine:{show:false},axisTick:{customValues:pTicks,length:11,lineStyle:{color:'#666'}},
   axisLabel:{customValues:pTicks,formatter:v=>String(v),fontSize:19,color:TXT,margin:21},
   name:'{a|−log}{s|10}{a|(p−value)}',nameLocation:'middle',nameRotate:90,nameGap:60,
   nameTextStyle:{rich:{a:{fontSize:19,color:TXT},s:{fontSize:13,color:TXT,verticalAlign:'bottom'}}}},
  {type:'value',gridIndex:1,position:'right',min:-4.8,max:104.9,splitLine:{show:false},
   axisLine:{show:true,lineStyle:{color:BLUE,width:1.5}},axisTick:{customValues:recTicks,length:12,lineStyle:{color:BLUE,width:1.5}},
   axisLabel:{customValues:recTicks,formatter:v=>String(v),fontSize:19,color:BLUE,margin:24},
   name:'Recombination rate (cM/Mb)',nameLocation:'middle',nameRotate:-90,nameGap:52,nameTextStyle:{fontSize:19.5,color:BLUE}},
  {type:'value',gridIndex:2,min:0,max:1,show:false}],
 series:[
  bodySeries(lightBody,LIGHT,2),
  runSeries(lightRuns,LIGHT,2),
  runSeries(lightMidRuns,LIGHT,2),
  dots(lightDots,LIGHT,3),
  bodySeries(darkBody,DARK,3),
  runSeries(darkRuns,DARK,3),
  runSeries(darkMidRuns,DARK,3),
  dots(darkDots,DARK,4),
  hline(thresholds.top,'#111',1.2),hline(thresholds.genomeWide,'#e64040',1.2),hline(thresholds.suggestive,'#1a1aff',1.4),
  {type:'line',xAxisIndex:1,yAxisIndex:2,data:recomb,symbol:'none',z:2,silent:true,lineStyle:{color:BLUE,width:2}},
  pts(expand(grayColumns),'#7f7f7f',3),
  pts(expand(navyColumns),'#000080',4),
  pts(expand(navyColumnsLow),'#000080',4),
  pts(expand(navyColumnsBase),'#000080',4),
  pts(lightbluePts,'#87cefa',5),
  pts(orangePts,'#ffa500',6),
  pts(greenPts,'#00ff00',6),
  pts(redPts,'#ff0000',7),
  pts([leadSnp],'#7a28c8',8,{label:{show:true,position:'top',distance:3,formatter:leadName,fontSize:19.5,color:'#000',fontFamily:FONT}}),
  {type:'custom',xAxisIndex:2,yAxisIndex:3,z:3,silent:true,data:geneSpans,
   renderItem:(p,api)=>{const a=api.coord([api.value(0),api.value(2)]),b=api.coord([api.value(1),api.value(2)]);
     return {type:'line',shape:{x1:a[0],y1:a[1],x2:b[0],y2:b[1]},style:{stroke:'#1c1c8c',lineWidth:1.6}};}},
  {type:'custom',xAxisIndex:2,yAxisIndex:3,z:4,silent:true,data:exons.map(e=>[e[0],e[1],.642]),
   renderItem:(p,api)=>{const a=api.coord([api.value(0),api.value(2)]),b=api.coord([api.value(1),api.value(2)]);
     return {type:'rect',shape:{x:a[0]-.7,y:a[1]-3.5,width:Math.max(1.4,b[0]-a[0]),height:7},style:{fill:'#000080'}};}},
  {type:'custom',xAxisIndex:2,yAxisIndex:3,z:4,silent:true,data:asExons.map(e=>[e[0],e[1],.141]),
   renderItem:(p,api)=>{const a=api.coord([api.value(0),api.value(2)]),b=api.coord([api.value(1),api.value(2)]);
     return {type:'rect',shape:{x:a[0]-.7,y:a[1]-3.5,width:Math.max(1.4,b[0]-a[0]),height:7},style:{fill:'#000080'}};}},
  {type:'custom',xAxisIndex:2,yAxisIndex:3,z:5,silent:true,data:geneLabels.map(g=>[g[0],g[1]]),renderItem:geneText}
 ]};
const chart=echarts.init(document.getElementById('c'),null,{renderer:'canvas',width:1156,height:1800});
chart.setOption(option);
</script></body></html>
